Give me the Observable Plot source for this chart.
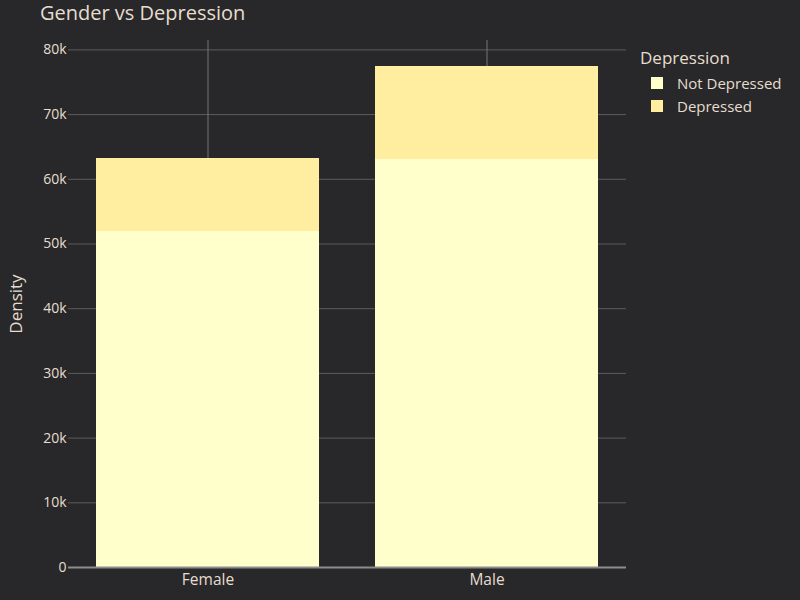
<!DOCTYPE html>
<html>
<head>
<meta charset="utf-8">
<script src="https://cdn.jsdelivr.net/npm/d3@7"></script>
<script src="https://cdn.jsdelivr.net/npm/@observablehq/plot@0.6"></script>
<style>
  html, body { margin: 0; padding: 0; background: #28282a; }
  #wrap { position: relative; width: 800px; height: 600px; background: #28282a; font-family: "Open Sans", sans-serif; color: #e6ddcf; overflow: hidden; }
  #title { position: absolute; left: 40px; top: 1px; font-size: 20px; line-height: 24px; white-space: nowrap; }
  #legend { position: absolute; left: 640px; top: 46px; }
  #legend .lt { font-size: 17px; line-height: 24px; margin-bottom: 1px; }
  #legend .it { display: flex; align-items: center; height: 23px; font-size: 15px; margin-left: 11px; }
  #legend .sw { width: 12px; height: 12px; margin-right: 14px; }
  svg { display: block; }
</style>
</head>
<body>
<div id="wrap">
  <div id="title">Gender vs Depression</div>
  <div id="legend"></div>
</div>
<script>
const genders = ["Female", "Male"];
const statuses = ["Not Depressed", "Depressed"];
const notDepressed = [52000, 63100];
const depressed = [11250, 14350];
const yTicks = [0, 10000, 20000, 30000, 40000, 50000, 60000, 70000, 80000];
const colors = ["#ffffcc", "#ffeda0"];

const rows = [];
genders.forEach((g, i) => {
  rows.push({gender: g, status: statuses[0], value: notDepressed[i]});
  rows.push({gender: g, status: statuses[1], value: depressed[i]});
});

const textColor = "#e6ddcf";
const chart = Plot.plot({
  width: 800,
  height: 600,
  marginLeft: 68,
  marginRight: 174,
  marginTop: 40,
  marginBottom: 33,
  style: {background: "transparent", fontFamily: "Open Sans, sans-serif", fontSize: "14px", color: textColor},
  x: {domain: genders, paddingInner: 0.2, paddingOuter: 0.1, label: null},
  y: {domain: [0, 81450], label: null},
  color: {domain: statuses, range: colors},
  marks: [
    Plot.gridY(yTicks, {stroke: "#5c5c5c", strokeOpacity: 1, strokeWidth: 1}),
    Plot.gridX(genders, {stroke: "#757575", strokeOpacity: 1, strokeWidth: 1}),
    Plot.barY(rows, {x: "gender", y: "value", fill: "status", order: statuses, shapeRendering: "crispEdges"}),
    Plot.ruleY([0], {stroke: "#8c8c8c", strokeWidth: 2}),
    Plot.axisY(yTicks, {tickSize: 0, tickPadding: 2, fontSize: 14, fill: textColor,
      tickFormat: d => d === 0 ? "0" : (d / 1000) + "k", label: null}),
    Plot.axisY({ticks: [], tickSize: 0, fontSize: 17, fill: textColor,
      label: "Density", labelAnchor: "center", labelArrow: "none", labelOffset: 59}),
    Plot.axisX({tickSize: 0, tickPadding: 6, fontSize: 15.5, fill: textColor, label: null})
  ]
});
document.getElementById("wrap").prepend(chart);

const legend = document.getElementById("legend");
const lt = document.createElement("div");
lt.className = "lt";
lt.textContent = "Depression";
legend.appendChild(lt);
statuses.forEach((s, i) => {
  const it = document.createElement("div");
  it.className = "it";
  const sw = document.createElement("div");
  sw.className = "sw";
  sw.style.background = colors[i];
  const tx = document.createElement("span");
  tx.textContent = s;
  it.appendChild(sw);
  it.appendChild(tx);
  legend.appendChild(it);
});
</script>
</body>
</html>
